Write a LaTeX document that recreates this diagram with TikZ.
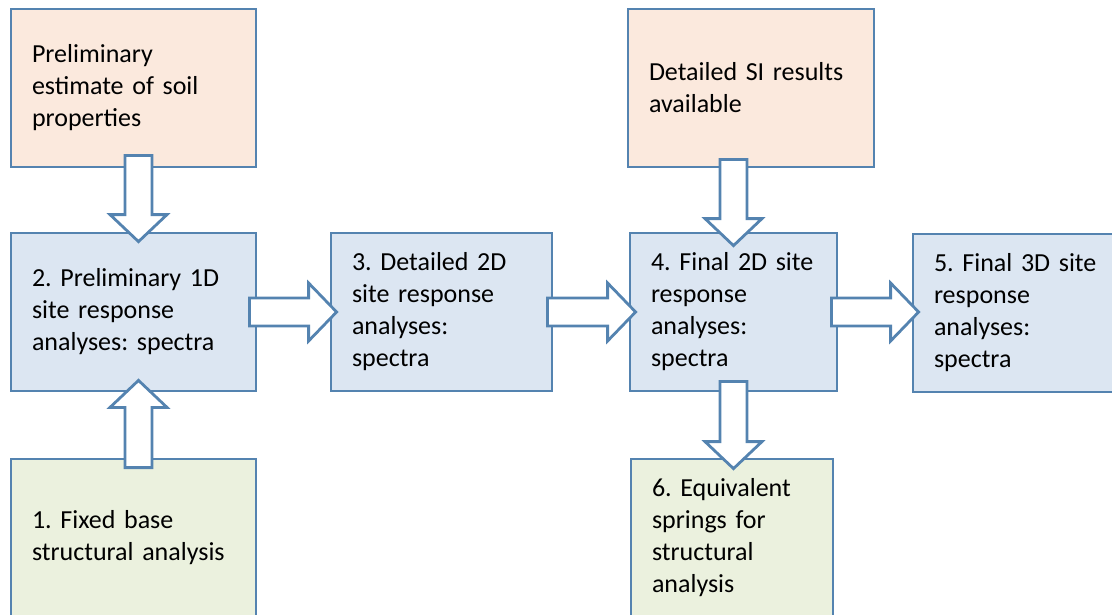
\documentclass[tikz,border=0pt]{standalone}
\usepackage{fontspec}
\setmainfont{Carlito}
\usetikzlibrary{calc}
\frenchspacing

\definecolor{boxline}{RGB}{84,131,176}
\definecolor{peachfill}{RGB}{251,233,221}
\definecolor{bluefill}{RGB}{220,230,242}
\definecolor{greenfill}{RGB}{235,241,222}

\tikzset{
	stepbox/.style={draw=boxline, line width=2.8pt, rectangle, minimum height=158pt,
		inner xsep=21pt, align=left, font=\fontsize{26}{32}\selectfont},
	downarrow/.style={draw=boxline, fill=white, line width=2.8pt, to path={let \p1=(\tikztostart), \p2=(\tikztotarget) in
		(\x1-13.5,\y1) -- (\x1-13.5,\y2+27) -- (\x1-28.5,\y2+27) -- (\x1,\y2) -- (\x1+28.5,\y2+27) -- (\x1+13.5,\y2+27) -- (\x1+13.5,\y1) -- cycle}},
	uparrow/.style={draw=boxline, fill=white, line width=2.8pt, to path={let \p1=(\tikztostart), \p2=(\tikztotarget) in
		(\x1-13.5,\y1) -- (\x1-13.5,\y2-27) -- (\x1-28.5,\y2-27) -- (\x1,\y2) -- (\x1+28.5,\y2-27) -- (\x1+13.5,\y2-27) -- (\x1+13.5,\y1) -- cycle}},
	rightarrow/.style={draw=boxline, fill=white, line width=2.8pt, to path={let \p1=(\tikztostart), \p2=(\tikztotarget) in
		(\x1,\y1+14) -- (\x2-28,\y1+14) -- (\x2-28,\y1+29) -- (\x2,\y1) -- (\x2-28,\y1-29) -- (\x2-28,\y1-14) -- (\x1,\y1-14) -- cycle}}
}

\begin{document}
\begin{tikzpicture}[x=1pt, y=-1pt]
			
			\useasboundingbox (0,0) rectangle (1112,614);
			\clip (0,0) rectangle (1112,614);
			
			% boxes
			\node[stepbox, fill=peachfill, text width=203pt] (prelim) at (133.5,88) {Preliminary\\estimate of soil\\properties};
			\node[stepbox, fill=bluefill, text width=203pt] (step2) at (133.5,312) {2. Preliminary 1D\\site response\\analyses: spectra};
			\node[stepbox, fill=greenfill, text width=203pt] (step1) at (133.5,538) {1. Fixed base\\structural analysis};
			
			\node[stepbox, fill=bluefill, text width=179pt] (step3) at (441.5,312) {3. Detailed 2D\\site response\\analyses:\\spectra};
			
			\node[stepbox, fill=peachfill, text width=204pt] (si) at (751,88) {Detailed SI results\\available};
			\node[stepbox, fill=bluefill, text width=165pt] (step4) at (733.5,312) {4. Final 2D site\\response\\analyses:\\spectra};
			\node[stepbox, fill=greenfill, text width=160pt] (step6) at (732,538) {6. Equivalent\\springs for\\structural\\analysis};
			
			\node[stepbox, fill=bluefill, text width=165pt] (step5) at (1016.5,313) {5. Final 3D site\\response\\analyses:\\spectra};
			
			% block arrows
			\coordinate (a1s) at ($(prelim.south)+(5,-13)$);
			\coordinate (a1e) at ($(step2.north)+(5,10)$);
			\coordinate (a2s) at ($(step1.north)+(5,10)$);
			\coordinate (a2e) at ($(step2.south)+(5,-12)$);
			\coordinate (a3s) at ($(step2.east)+(-8,0)$);
			\coordinate (a3e) at ($(step3.west)+(7,0)$);
			\coordinate (a4s) at ($(step3.east)+(-6,0)$);
			\coordinate (a4e) at ($(step4.west)+(7,0)$);
			\coordinate (a5s) at ($(step4.east)+(-7,0)$);
			\coordinate (a5e) at ($(step5.west)+(7,0)$);
			\coordinate (a6s) at ($(si.south -| step4.north)+(0,-9)$);
			\coordinate (a6e) at ($(step4.north)+(0,14)$);
			\coordinate (a7s) at ($(step4.south)+(0,-11)$);
			\coordinate (a7e) at ($(step6.north)+(0,11)$);
			
			\draw[downarrow] (a1s) to (a1e);
			\draw[uparrow] (a2s) to (a2e);
			\draw[rightarrow] (a3s) to (a3e);
			\draw[rightarrow] (a4s) to (a4e);
			\draw[rightarrow] (a5s) to (a5e);
			\draw[downarrow] (a6s) to (a6e);
			\draw[downarrow] (a7s) to (a7e);
			
\end{tikzpicture}
\end{document}
